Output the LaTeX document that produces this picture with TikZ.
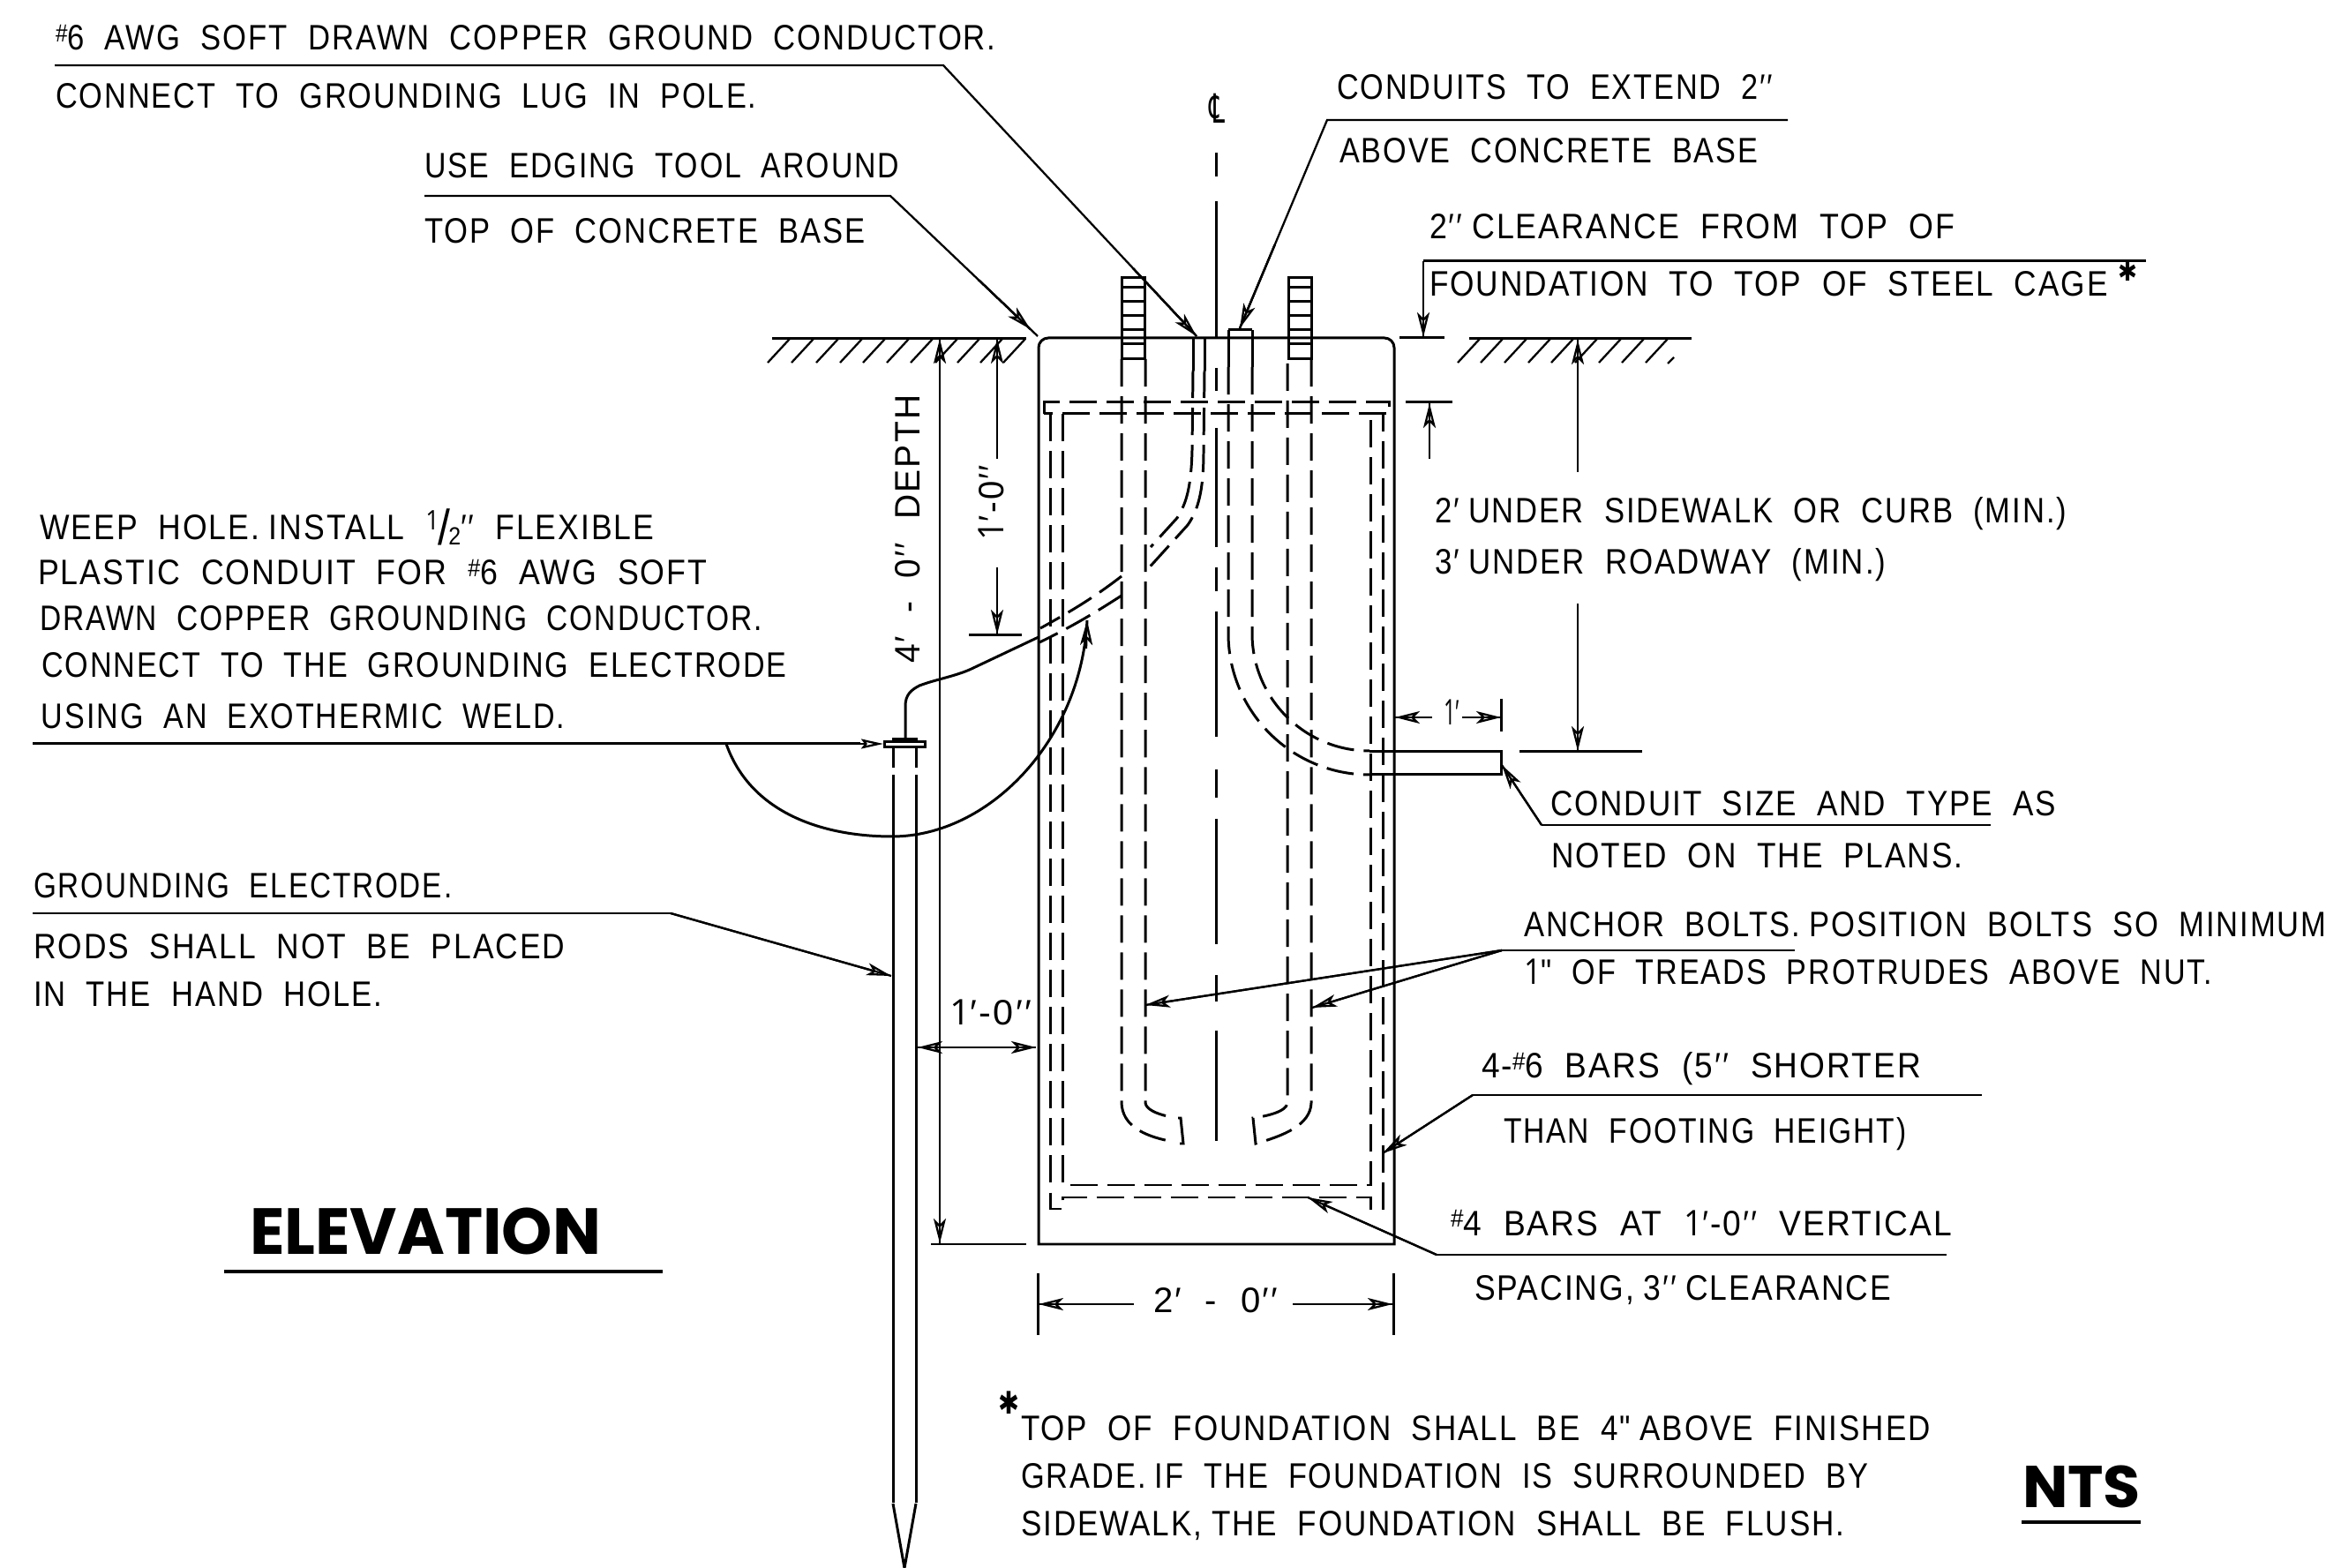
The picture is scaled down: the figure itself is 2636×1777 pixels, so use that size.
\documentclass[tikz,border=0pt]{standalone}
\usepackage{fontspec}
\usepackage{graphicx}
\usetikzlibrary{arrows.meta,calc}
\newfontfamily\cadf[FakeStretch=0.88,LetterSpace=5,WordSpace=2]{Liberation Sans}
\newfontfamily\cadb{Poppins Bold}
\newfontfamily\opnf[FakeStretch=0.88]{Open Sans}
\newfontfamily\djvf{DejaVu Sans}
\newsavebox\tbox
% fitted text: base-left anchored, horizontally scaled to W reference pixels
\newcommand\fitw[2]{\sbox\tbox{#2}\pgfmathsetmacro\sfac{#1*0.284528/\the\wd\tbox}\scalebox{\sfac}[1]{\usebox\tbox}}
\newcommand\tx[5]{\node[cadtext] (#1) at (#2,#3) {\fitw{#4}{#5}};}
\newcommand\one{{\opnf 1}}
\newcommand\ns{\kern3pt}
\newcommand\hash{\raisebox{2.6pt}{\fontsize{8}{8}\selectfont\#}}
\newcommand\half{\raisebox{3.4pt}{\fontsize{8.7}{9}\selectfont\opnf 1}\kern-.4pt{\fontsize{16}{16}\selectfont\raisebox{-1.7pt}{/}}\kern-.6pt\raisebox{-1.7pt}{\fontsize{8}{8}\selectfont 2}}
\newcommand\ldr[2]{\draw[thin line,-{Stealth[length=2.8mm,width=1.4mm,inset=0.7mm,open]}] #1 -- #2; \draw[thin line] #1 -- #2;}
\tikzset{x=0.01cm,y=-0.01cm,
  cadtext/.style={anchor=base west,inner sep=0pt,outer sep=0pt,font=\cadf\fontsize{11.4}{12}\selectfont},
  boldtext/.style={anchor=base west,inner sep=0pt,outer sep=0pt,font=\cadb\fontsize{21}{22}\selectfont},
  main line/.style={line width=0.85pt},
  thin line/.style={line width=0.65pt},
  dashline/.style={line width=0.85pt,dash pattern=on 0.31cm off 0.11cm},
  hatch/.style={line width=0.65pt}}
\begin{document}
\begin{tikzpicture}
\useasboundingbox (0,0) rectangle (2636,1777);
\fill[white] (0,0) rectangle (2636,1777);
% foundation
\draw[main line,line cap=round] (1177,1410) -- (1177,394) arc[start angle=180,end angle=270,radius=11] -- (1569,383) arc[start angle=270,end angle=360,radius=11] -- (1580,1410) -- cycle;
% ground
\draw[main line] (875,384) -- (1163,384);
\foreach \x in {895,922,950,977,1003,1030,1057,1085,1110,1136,1162} \draw[hatch] (\x,384) -- (\x-25,411);
\draw[main line] (1665,384) -- (1917,384);
\foreach \x in {1677,1703,1730,1757,1783,1810,1837,1863,1890} \draw[hatch] (\x,384) -- (\x-25,411);
\draw[hatch] (1897,405) -- (1890,412);
% top hoop
\draw[dashline] (1183,469) -- (1183,456) -- (1574,456) -- (1574,469) -- (1183,469);
% vertical bars
\draw[dashline] (1190,469) -- (1190,1370) -- (1204,1370) -- (1204,1357) -- (1553,1357) -- (1553,1370) -- (1567,1370) -- (1567,469);
\draw[dashline] (1204,469) -- (1204,1343) -- (1553,1343) -- (1553,469);
% anchor bolts
\draw[main line] (1271,315) rectangle (1297.5,407);
\foreach \y in {326,342,358,374,390} \draw[main line] (1271,\y) -- (1297.5,\y);
\draw[main line] (1460,315) rectangle (1486,407);
\foreach \y in {326,342,358,374,390} \draw[main line] (1460,\y) -- (1486,\y);
\draw[dashline] (1271,407) -- (1271,1250) .. controls (1272,1275) and (1295,1287) .. (1325,1293);
\draw[dashline] (1298,407) -- (1298,1250) .. controls (1299,1257) and (1310,1262) .. (1323,1265);
\draw[main line] (1335,1267) -- (1338,1267) -- (1341,1296) -- (1337,1296);
\draw[dashline] (1486,407) -- (1486,1250) .. controls (1485,1275) and (1455,1287) .. (1423,1296) -- (1420,1267) .. controls (1435,1265) and (1458,1260) .. (1459,1250) -- (1459,407);
% centre line
\foreach \a/\b in {173/200,228/383,417/443,485/620,643/670,693/835,872/904,928/1070,1105/1135,1168/1293} \draw[main line] (1378.5,\a) -- (1378.5,\b);
% grounding conduit
\draw[main line] (1352,383) -- (1352,420);
\draw[main line] (1365,383) -- (1365,420);
\draw[dashline] (1352,420) -- (1351,510) .. controls (1350,550) and (1345,570) .. (1334,587) -- (1304,620);
\draw[dashline] (1365,420) -- (1364,510) .. controls (1364,550) and (1360,575) .. (1346,595) -- (1298,648);
\draw[dashline] (1271,653) .. controls (1240,677) and (1215,692) .. (1179,712);
\draw[dashline] (1271,675) .. controls (1240,695) and (1215,710) .. (1178,728);
% conductor and lug
\draw[main line] (1177,722) -- (1103,757) .. controls (1085,766) and (1060,770) .. (1042,777) .. controls (1032,782) and (1026,788) .. (1026,800) -- (1026,838);
\draw[main line,fill=white] (1002.5,841) rectangle (1048.5,847);
\draw[main line,fill=gray] (1012,838) rectangle (1038,841);
% electrode
\draw[main line] (1012,847) -- (1012,870) (1012,878) -- (1012,1703) (1038,1703) -- (1038,878) (1038,870) -- (1038,847);
\draw[main line] (1012,1704) -- (1025,1777) -- (1038,1704);
% conduit to the right
\draw[main line] (1392,374) -- (1419,374);
\draw[main line] (1392,374) -- (1392,416);
\draw[main line] (1419,374) -- (1419,416);
\draw[dashline] (1392,416) -- (1392,718) arc[start angle=180,end angle=90,radius=160];
\draw[dashline] (1419,416) -- (1419,718) arc[start angle=180,end angle=90,radius=133];
\draw[main line] (1552,852) -- (1701.5,852) -- (1701.5,878) -- (1552,878);
% dimension 4'-0"
\draw[thin line] (1065,383) -- (1065,1410);
\draw[main line] (1055,1410) -- (1163,1410);
\draw[thin line,-{Stealth[length=2.8mm,width=1.4mm,inset=0.7mm,open]}] (1065,430) -- (1065,384);
\draw[thin line,-{Stealth[length=2.8mm,width=1.4mm,inset=0.7mm,open]}] (1065,1360) -- (1065,1409);
\node[cadtext,rotate=90] (depth) at (1042,752) {\fitw{304}{4′ - 0′′ DEPTH}};
% dimension 1'-0" vertical
\coordinate (d1a) at (1130,520); \coordinate (d1b) at (1130,384);
\coordinate (d1c) at (1130,643); \coordinate (d1d) at (1130,719);
\ldr{(d1a)}{(d1b)}
\ldr{(d1c)}{(d1d)}
\draw[main line] (1098,720) -- (1158,720);
\node[cadtext,rotate=90] (oneft) at (1137,613) {\fitw{86}{\one′-0′′}};
% 2" clearance
\coordinate (c2a) at (1613,296); \coordinate (c2b) at (1613,382);
\draw[main line] (2432,296) -- (c2a);
\ldr{(c2a)}{(c2b)}
\draw[main line] (1586,383) -- (1637,383);
\draw[main line] (1593,456) -- (1646,456);
\coordinate (c3a) at (1620,520); \coordinate (c3b) at (1620,457);
\ldr{(c3a)}{(c3b)}
% burial dimension
\coordinate (b1a) at (1788,535); \coordinate (b1b) at (1788,385);
\coordinate (b2a) at (1788,684); \coordinate (b2b) at (1788,851);
\ldr{(b1a)}{(b1b)}
\ldr{(b2a)}{(b2b)}
\draw[main line] (1722,852) -- (1861,852);
% 1' dimension
\coordinate (f1a) at (1623,813); \coordinate (f1b) at (1581,813);
\coordinate (f2a) at (1657,813); \coordinate (f2b) at (1701,813);
\ldr{(f1a)}{(f1b)}
\ldr{(f2a)}{(f2b)}
\draw[main line] (1701.5,792) -- (1701.5,829);
\node[cadtext] (oneb) at (1636,822) {\fitw{18}{\one′}};
% 2'-0" dimension
\draw[main line] (1176,1443) -- (1176,1513) (1579,1443) -- (1579,1513);
\coordinate (w1a) at (1285,1478); \coordinate (w1b) at (1177,1478);
\coordinate (w2a) at (1465,1478); \coordinate (w2b) at (1578,1478);
\ldr{(w1a)}{(w1b)}
\ldr{(w2a)}{(w2b)}
\node[cadtext] (twoft) at (1307,1488) {\fitw{141}{2′ - 0′′}};
% 1'-0" horizontal
\coordinate (h1) at (1108,1187); \coordinate (h2) at (1040,1187); \coordinate (h3) at (1174,1187);
\ldr{(h1)}{(h2)}
\ldr{(h1)}{(h3)}
\node[cadtext] (oneh) at (1076,1162) {\fitw{93}{\one′-0′′}};
% leaders
\coordinate (t1) at (1356,381); \coordinate (t1k) at (1069,74);
\draw[thin line] (62,74) -- (t1k) -- (t1);
\ldr{($(t1k)!0.75!(t1)$)}{(t1)}
\coordinate (t2k) at (1009,222); \coordinate (t2e) at (1176,381);
\draw[thin line] (481,222) -- (t2k) -- (t2e);
\ldr{($(t2k)!0.6!(t2e)$)}{($(t2k)!0.95!(t2e)$)}
\coordinate (t3k) at (1504,136); \coordinate (t3e) at (1405,372);
\draw[thin line] (2026,136) -- (t3k) -- (t3e);
\ldr{($(t3k)!0.6!(t3e)$)}{(t3e)}
\coordinate (ab) at (1702,1077);
\coordinate (ab1) at (1298,1139); \coordinate (ab2) at (1487,1142);
\draw[thin line] (ab) -- (2034,1077);
\ldr{(ab)}{(ab1)}
\ldr{(ab)}{(ab2)}
\coordinate (cs) at (1747,935); \coordinate (cst) at (1702,867);
\draw[thin line] (cs) -- (2256,935);
\ldr{(cs)}{(cst)}
\draw[thin line] (2246,1241) -- (1669,1241);
\ldr{(1669,1241)}{(1567,1307)}
\draw[thin line] (2206,1422) -- (1628,1422);
\ldr{(1628,1422)}{(1482,1357)}
\draw[thin line] (37,1035) -- (760,1035);
\ldr{(760,1035)}{(1010,1106)}
\draw[main line] (37,843) -- (975,843);
\draw[thin line,fill=white,-{Stealth[length=2.5mm,width=1.1mm,inset=0.4mm,open]}] (960,843) -- (1001,843);
\draw[main line] (823,843) .. controls (850,920) and (930,948) .. (1011,948) .. controls (1120,948) and (1225,840) .. (1232,703);
\draw[thin line,-{Stealth[length=2.8mm,width=1.4mm,inset=0.7mm,open]}] (1231,735) -- (1232,703);
% title underlines
\draw[line width=1.1pt] (254,1441) -- (751,1441);
\draw[line width=1.1pt] (2291,1725) -- (2426,1725);
% text
\tx{n1}{63}{57}{1065}{\hash 6 AWG SOFT DRAWN COPPER GROUND CONDUCTOR.}
\tx{n2}{63}{123}{794}{CONNECT TO GROUNDING LUG IN POLE.}
\tx{n3}{481}{202}{538}{USE EDGING TOOL AROUND}
\tx{n4}{481}{276}{499}{TOP OF CONCRETE BASE}
\tx{n5}{1515}{113}{494}{CONDUITS TO EXTEND 2′′}
\tx{n6}{1518}{185}{474}{ABOVE CONCRETE BASE}
\tx{n7}{1620}{271}{595}{2′′\ns CLEARANCE FROM TOP OF}
\tx{n8}{1620}{336}{768}{FOUNDATION TO TOP OF STEEL CAGE}
\node[cadtext] (n8a) at (2400,319) {\fitw{22}{\djvf\fontsize{8.5}{9}\selectfont ✱}};
\tx{n9}{1626}{593}{716}{2′\ns UNDER SIDEWALK OR CURB (MIN.)}
\tx{n10}{1626}{651}{511}{3′\ns UNDER ROADWAY (MIN.)}
\tx{w1}{45}{612}{696}{WEEP HOLE.\ns INSTALL \half′′ FLEXIBLE}
\tx{w2}{43}{663}{758}{PLASTIC CONDUIT FOR \hash 6 AWG SOFT}
\tx{w3}{45}{715}{818}{DRAWN COPPER GROUNDING CONDUCTOR.}
\tx{w4}{47}{768}{844}{CONNECT TO THE GROUNDING ELECTRODE}
\tx{w5}{47}{826}{593}{USING AN EXOTHERMIC WELD.}
\tx{n12}{1757}{925}{573}{CONDUIT SIZE AND TYPE AS}
\tx{n13}{1758}{984}{466}{NOTED ON THE PLANS.}
\tx{n14}{1727}{1062}{909}{ANCHOR BOLTS.\ns POSITION BOLTS SO MINIMUM}
\tx{n15}{1727}{1116}{780}{\one" OF TREADS PROTRUDES ABOVE NUT.}
\tx{n16}{1679}{1222}{498}{4-\hash 6 BARS (5′′ SHORTER}
\tx{n17}{1704}{1296}{456}{THAN FOOTING HEIGHT)}
\tx{n18}{1644}{1400}{568}{\hash 4 BARS AT \one′-0′′ VERTICAL}
\tx{n19}{1671}{1473}{472}{SPACING,\ns 3′′\ns CLEARANCE}
\tx{g1}{38}{1018}{474}{GROUNDING ELECTRODE.}
\tx{g2}{38}{1087}{602}{RODS SHALL NOT BE PLACED}
\tx{g3}{38}{1141}{395}{IN THE HAND HOLE.}
\tx{b1}{1157}{1632}{1030}{TOP OF FOUNDATION SHALL BE 4"\ns ABOVE FINISHED}
\tx{b2}{1157}{1686}{960}{GRADE.\ns IF THE FOUNDATION IS SURROUNDED BY}
\tx{b3}{1157}{1740}{933}{SIDEWALK,\ns THE FOUNDATION SHALL BE FLUSH.}
\node[cadtext] (b0) at (1131,1602) {\fitw{24}{\djvf\fontsize{10}{10}\selectfont ✱}};
\node[cadtext] (cl) at (1370,140) {\fitw{18}{\djvf\fontsize{13}{13}\selectfont ℄}};
\node[boldtext] (elev) at (283,1422) {\fitw{398}{ELEVATION}};
\node[boldtext,font=\cadb\fontsize{19}{20}\selectfont] (nts) at (2292,1708) {\fitw{134}{NTS}};
\end{tikzpicture}
\end{document}
